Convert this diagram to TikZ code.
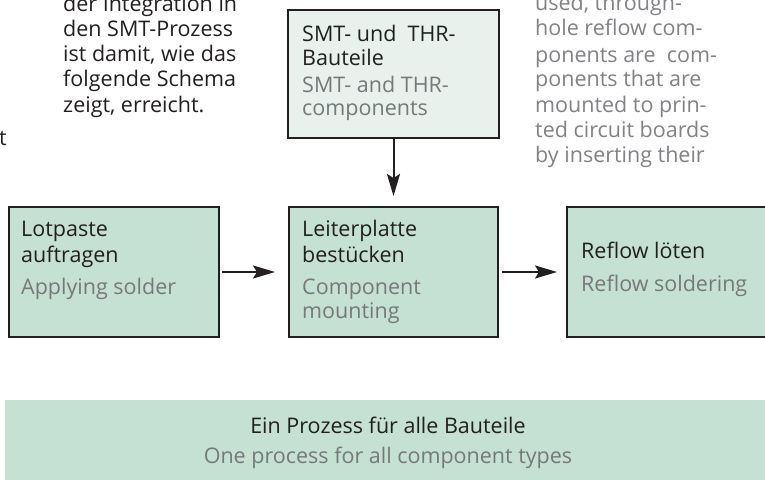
\documentclass[tikz,border=0pt]{standalone}
\usepackage{fontspec}
\setmainfont{Open Sans}
\usetikzlibrary{arrows.meta}
\definecolor{boxgreen}{HTML}{C5E1D3}
\definecolor{palegreen}{HTML}{E8F1EC}
\definecolor{ink}{HTML}{231F20}
\definecolor{greytext}{HTML}{77787B}
\definecolor{coltext}{HTML}{808285}
\tikzset{
  stepbox/.style={draw=ink, line width=2pt, fill=boxgreen, inner sep=0pt, anchor=north west},
  topbox/.style={stepbox, fill=palegreen},
  band/.style={fill=boxgreen, draw=none, inner sep=0pt, anchor=north west},
  flow/.style={draw=ink, line width=2pt, -{Stealth[length=22pt,width=13pt,inset=4pt]}},
  txt/.style={anchor=base west, inner sep=0pt, font=\fontsize{21.5}{26}\selectfont},
  de/.style={txt, text=ink},
  en/.style={txt, text=greytext},
  bodyblack/.style={txt, text=ink},
  bodygrey/.style={txt, text=coltext},
}
\begin{document}
\begin{tikzpicture}[x=1pt,y=-1pt]
\useasboundingbox (0,0) rectangle (765,479);
% body text columns
\node[bodyblack] (l1) at (63,11) {der Integration in};
\node[bodyblack] (l2) at (63,36) {den SMT-Prozess};
\node[bodyblack] (l3) at (63,61) {ist damit, wie das};
\node[bodyblack] (l4) at (63,86) {folgende Schema};
\node[bodyblack] (l5) at (63,112) {zeigt, erreicht.};
\node[bodyblack] (l6) at (-1,145) {t};
\node[bodygrey] (r1) at (535,10) {used, through-};
\node[bodygrey] (r2) at (535,35) {hole reflow com-};
\node[bodygrey] (r3) at (535,62) {ponents are \ com-};
\node[bodygrey] (r4) at (535,86) {ponents that are};
\node[bodygrey] (r5) at (535,112) {mounted to prin-};
\node[bodygrey] (r6) at (535,137) {ted circuit boards};
\node[bodygrey] (r7) at (535,162) {by inserting their};
% boxes
\node[topbox, minimum width=211pt, minimum height=128pt] (smt) at (287,9) {};
\node[stepbox, minimum width=210pt, minimum height=130pt] (lot) at (8,206) {};
\node[stepbox, minimum width=209pt, minimum height=130pt] (bes) at (288,206) {};
\node[stepbox, minimum width=230pt, minimum height=130pt] (ref) at (566,206) {};
\node[band, minimum width=770pt, minimum height=85pt] (one) at (5,400) {};
% box texts
\node[de] (smt1) at (302,41) {SMT- und \ THR-};
\node[de] (smt2) at (302,65) {Bauteile};
\node[en] (smt3) at (302,92) {SMT- and THR-};
\node[en] (smt4) at (302,115) {components};
\node[de] (lot1) at (21,236) {Lotpaste};
\node[de] (lot2) at (21,262) {auftragen};
\node[en] (lot3) at (21,294) {Applying solder};
\node[de] (bes1) at (302,236) {Leiterplatte};
\node[de] (bes2) at (302,262) {bestücken};
\node[en] (bes3) at (302,294) {Component};
\node[en] (bes4) at (302,318) {mounting};
\node[de] (ref1) at (581,258) {Reflow löten};
\node[en] (ref2) at (581,291) {Reflow soldering};
\node[de, anchor=base] (one1) at (388,433) {Ein Prozess für alle Bauteile};
\node[en, anchor=base] (one2) at (388,463) {One process for all component types};
% connectors
\draw[flow, shorten >=10pt] (smt.south) -- (bes.north);
\draw[flow, shorten <=2pt, shorten >=13pt] (lot.east) -- (bes.west);
\draw[flow, shorten <=3pt, shorten >=9pt] (bes.east) -- (ref.west |- bes.east);
\end{tikzpicture}
\end{document}
